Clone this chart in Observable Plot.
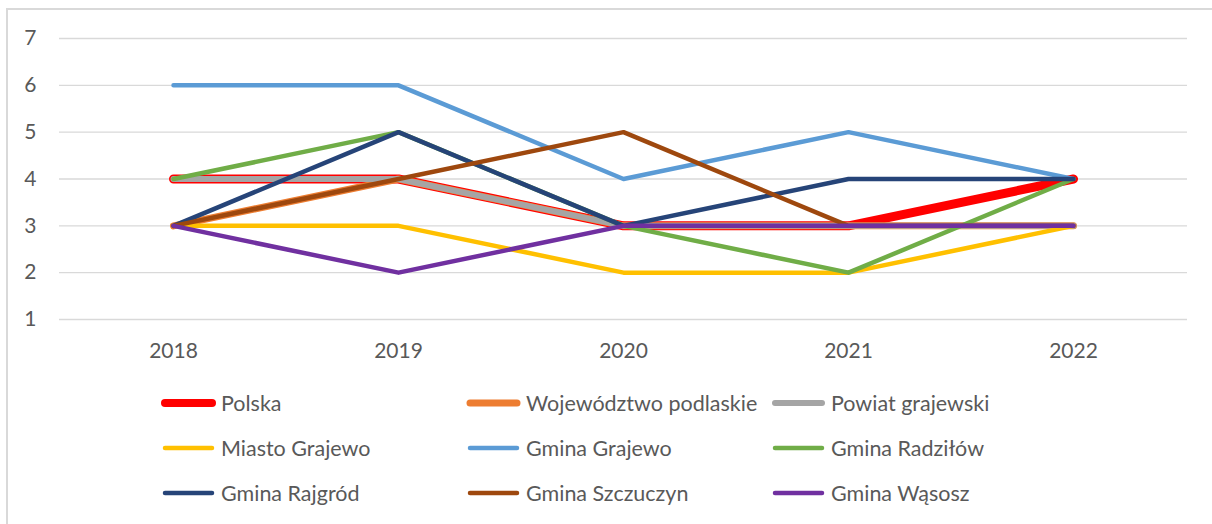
<!DOCTYPE html>
<html>
<head>
<meta charset="utf-8">
<script src="https://cdn.jsdelivr.net/npm/d3@7"></script>
<script src="https://cdn.jsdelivr.net/npm/@observablehq/plot@0.6"></script>
<style>
  html, body { margin: 0; padding: 0; background: #fff; }
  body { width: 1212px; height: 524px; overflow: hidden; position: relative; font-family: Lato, "Open Sans", sans-serif; }
  #frame { position: absolute; left: 6px; top: 8px; width: 1240px; height: 560px; border: 2px solid #d9d9d9; box-sizing: border-box; }
  #chart { position: absolute; left: 0; top: 0; }
  #legend { position: absolute; left: 160px; top: 381px; width: 930px; display: grid; grid-template-columns: 305px 305px 305px; grid-auto-rows: 44.7px; }
  .item { display: flex; align-items: center; color: #595959; font-size: 21.5px; white-space: nowrap; }
  .item svg { margin-right: 4px; flex: none; }
</style>
</head>
<body>
<div id="frame"></div>
<div id="chart"></div>
<div id="legend"></div>
<script>
const years = ["2018", "2019", "2020", "2021", "2022"];
const seriesNames = ["Polska", "Województwo podlaskie", "Powiat grajewski", "Miasto Grajewo", "Gmina Grajewo", "Gmina Radziłów", "Gmina Rajgród", "Gmina Szczuczyn", "Gmina Wąsosz"];
const polska = [4, 4, 3, 3, 4];
const wojewodztwoPodlaskie = [3, 4, 3, 3, 3];
const powiatGrajewski = [4, 4, 3, 3, 3];
const miastoGrajewo = [3, 3, 2, 2, 3];
const gminaGrajewo = [6, 6, 4, 5, 4];
const gminaRadzilow = [4, 5, 3, 2, 4];
const gminaRajgrod = [3, 5, 3, 4, 4];
const gminaSzczuczyn = [3, 4, 5, 3, 3];
const gminaWasosz = [3, 2, 3, 3, 3];
const yTicks = [1, 2, 3, 4, 5, 6, 7];

const seriesValues = [polska, wojewodztwoPodlaskie, powiatGrajewski, miastoGrajewo, gminaGrajewo, gminaRadzilow, gminaRajgrod, gminaSzczuczyn, gminaWasosz];
const colors = ["#FF0000", "#ED7D31", "#A5A5A5", "#FFC000", "#5B9BD5", "#70AD47", "#264478", "#9E480E", "#7030A0"];
const widths = [9, 7, 6, 4.5, 4.5, 4.5, 4.5, 4.5, 4.5];

const rows = seriesNames.map((name, i) => years.map((year, j) => ({series: name, year, value: seriesValues[i][j]})));

const plot = Plot.plot({
  width: 1212,
  height: 380,
  marginLeft: 59,
  marginRight: 25,
  marginTop: 38,
  marginBottom: 61,
  style: { fontFamily: "Lato, 'Open Sans', sans-serif", fontSize: "21px", color: "#595959", background: "transparent" },
  x: { type: "point", domain: years, padding: 0.5, label: null, tickSize: 0, tickPadding: 24 },
  y: { domain: [1, 7], ticks: yTicks, tickFormat: d3.format("d"), label: null, tickSize: 0, tickPadding: 23 },
  marks: [
    Plot.gridY(yTicks, { stroke: "#d9d9d9", strokeOpacity: 1, strokeWidth: 1.4 }),
    ...rows.map((data, i) => Plot.line(data, {
      x: "year", y: "value",
      stroke: colors[i], strokeWidth: widths[i],
      strokeLinecap: "round", strokeLinejoin: "round"
    }))
  ]
});
document.getElementById("chart").append(plot);

const legend = d3.select("#legend");
seriesNames.forEach((name, i) => {
  const item = legend.append("div").attr("class", "item");
  const svg = item.append("svg").attr("width", 57).attr("height", 14);
  svg.append("line")
    .attr("x1", 5).attr("x2", 52).attr("y1", 7).attr("y2", 7)
    .attr("stroke", colors[i]).attr("stroke-width", Math.min(widths[i], 8))
    .attr("stroke-linecap", "round");
  item.append("span").text(name);
});
</script>
</body>
</html>
